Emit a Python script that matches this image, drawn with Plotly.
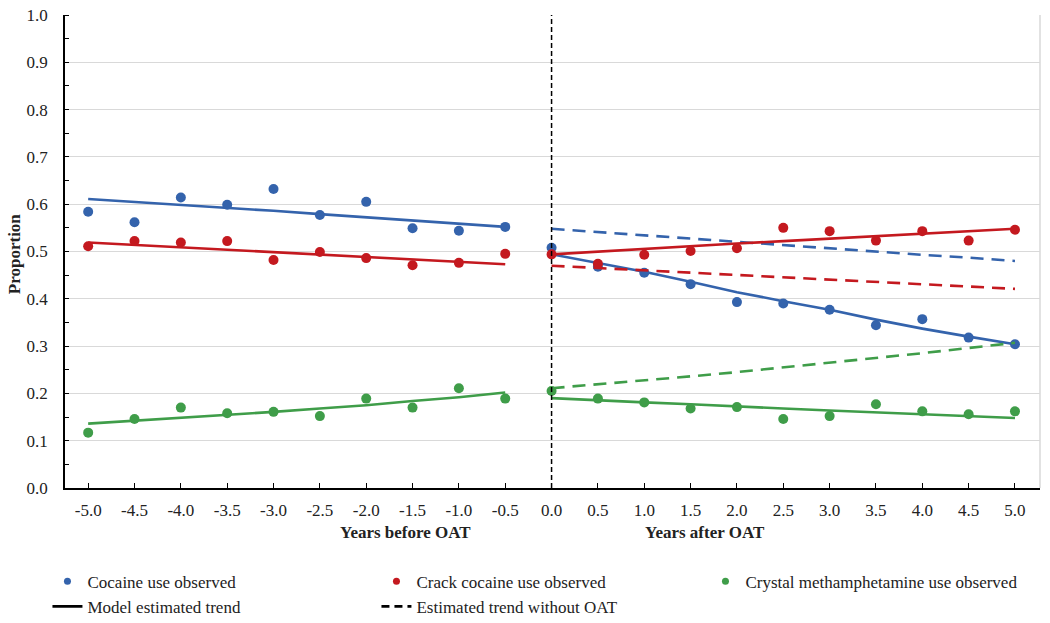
import plotly.graph_objects as go

# ---------------- data ----------------
x_before = [-5.0, -4.5, -4.0, -3.5, -3.0, -2.5, -2.0, -1.5, -1.0, -0.5]
x_after = [0.0, 0.5, 1.0, 1.5, 2.0, 2.5, 3.0, 3.5, 4.0, 4.5, 5.0]

cocaine_obs_before = [0.584, 0.562, 0.614, 0.599, 0.632, 0.577, 0.605, 0.549, 0.544, 0.552]
cocaine_obs_after = [0.508, 0.468, 0.455, 0.431, 0.393, 0.390, 0.377, 0.344, 0.357, 0.318, 0.304]
crack_obs_before = [0.511, 0.522, 0.519, 0.522, 0.482, 0.499, 0.486, 0.471, 0.476, 0.495]
crack_obs_after = [0.494, 0.474, 0.493, 0.501, 0.507, 0.550, 0.543, 0.523, 0.543, 0.523, 0.546]
crystal_obs_before = [0.117, 0.146, 0.170, 0.158, 0.161, 0.152, 0.189, 0.170, 0.211, 0.189]
crystal_obs_after = [0.205, 0.189, 0.181, 0.168, 0.171, 0.146, 0.152, 0.177, 0.162, 0.156, 0.162]

cocaine_trend_before = [0.611, 0.605, 0.599, 0.592, 0.586, 0.579, 0.572, 0.566, 0.559, 0.552]
cocaine_trend_after = [0.494, 0.475, 0.457, 0.436, 0.414, 0.395, 0.377, 0.356, 0.337, 0.320, 0.304]
cocaine_cf_after = [0.548, 0.541, 0.534, 0.527, 0.521, 0.514, 0.507, 0.500, 0.493, 0.487, 0.480]

crack_trend_before = [0.519, 0.514, 0.509, 0.504, 0.499, 0.494, 0.489, 0.484, 0.478, 0.473]
crack_trend_after = [0.494, 0.500, 0.506, 0.511, 0.517, 0.522, 0.527, 0.532, 0.537, 0.542, 0.548]
crack_cf_after = [0.470, 0.465, 0.460, 0.455, 0.450, 0.445, 0.440, 0.436, 0.431, 0.426, 0.421]

crystal_trend_before = [0.136, 0.142, 0.148, 0.155, 0.161, 0.168, 0.175, 0.184, 0.192, 0.202]
crystal_trend_after = [0.190, 0.185, 0.181, 0.177, 0.172, 0.168, 0.164, 0.160, 0.156, 0.152, 0.148]
crystal_cf_after = [0.211, 0.219, 0.227, 0.236, 0.245, 0.255, 0.264, 0.274, 0.285, 0.296, 0.307]

x_ticks = [-5.0, -4.5, -4.0, -3.5, -3.0, -2.5, -2.0, -1.5, -1.0, -0.5,
           0.0, 0.5, 1.0, 1.5, 2.0, 2.5, 3.0, 3.5, 4.0, 4.5, 5.0]
y_ticks = [0.0, 0.1, 0.2, 0.3, 0.4, 0.5, 0.6, 0.7, 0.8, 0.9, 1.0]

legend_labels = ["Cocaine use observed", "Crack cocaine use observed",
                 "Crystal methamphetamine use observed",
                 "Model estimated trend", "Estimated trend without OAT"]

# ---------------- styles ----------------
BLUE = "#3463ac"
RED = "#c4191f"
GREEN = "#3f9d49"
FONT = "Liberation Serif"
LW = 2.6
DASH = "13px,8px"
LEG_W = 284

fig = go.Figure()

series = [
    (BLUE, cocaine_obs_before, cocaine_obs_after, cocaine_trend_before, cocaine_trend_after, cocaine_cf_after),
    (RED, crack_obs_before, crack_obs_after, crack_trend_before, crack_trend_after, crack_cf_after),
    (GREEN, crystal_obs_before, crystal_obs_after, crystal_trend_before, crystal_trend_after, crystal_cf_after),
]

for color, ob, oa, tb, ta, cf in series:
    fig.add_trace(go.Scatter(x=x_after, y=cf, mode="lines", showlegend=False,
                             line=dict(color=color, width=LW, dash=DASH), hoverinfo="skip"))
    fig.add_trace(go.Scatter(x=x_before, y=tb, mode="lines", showlegend=False,
                             line=dict(color=color, width=LW)))
    fig.add_trace(go.Scatter(x=x_after, y=ta, mode="lines", showlegend=False,
                             line=dict(color=color, width=LW)))
    fig.add_trace(go.Scatter(x=x_before + x_after, y=ob + oa, mode="markers", showlegend=False,
                             marker=dict(color=color, size=10)))

# legend-only entries
leg_colors = [BLUE, RED, GREEN]
for i in range(3):
    fig.add_trace(go.Scatter(x=[None], y=[None], mode="markers", name=legend_labels[i],
                             marker=dict(color=leg_colors[i], size=7), legendwidth=LEG_W))
fig.add_trace(go.Scatter(x=[None], y=[None], mode="lines", name=legend_labels[3],
                         line=dict(color="black", width=2.6), legendwidth=LEG_W))
fig.add_trace(go.Scatter(x=[None], y=[None], mode="lines", name=legend_labels[4],
                         line=dict(color="black", width=2.6, dash="8px,5px"), legendwidth=LEG_W))

# vertical dashed line at OAT start
fig.add_shape(type="line", xref="x", yref="y", x0=0, x1=0, y0=0, y1=1,
              line=dict(color="black", width=1.5, dash="5px,3px"), layer="above")
# right border
fig.add_shape(type="line", xref="paper", yref="paper", x0=1, x1=1, y0=0, y1=1,
              line=dict(color="#cfcfcf", width=1.2), layer="below")

fig.add_annotation(text="<b>Years before OAT</b>", x=-1.58, xref="x", y=-0.095, yref="paper",
                   yanchor="middle", showarrow=False, font=dict(family=FONT, size=17, color="#222"))
fig.add_annotation(text="<b>Years after OAT</b>", x=1.65, xref="x", y=-0.095, yref="paper",
                   yanchor="middle", showarrow=False, font=dict(family=FONT, size=17, color="#222"))
fig.add_annotation(text="<b>Proportion</b>", x=-0.051, xref="paper", y=0.495, yref="paper",
                   xanchor="center", yanchor="middle",
                   textangle=-90, showarrow=False, font=dict(family=FONT, size=17, color="#222"))

fig.update_layout(
    width=1050, height=623,
    margin=dict(l=65, r=10, t=15, b=135, autoexpand=False),
    paper_bgcolor="white", plot_bgcolor="white",
    font=dict(family=FONT, size=17, color="#222"),
    showlegend=True,
    legend=dict(orientation="h", x=-0.018, xanchor="left", y=-0.16, yanchor="top",
                font=dict(family=FONT, size=17, color="#222"),
                bgcolor="rgba(0,0,0,0)", tracegroupgap=0),
    xaxis=dict(range=[-5.25, 5.27], tickmode="array", tickvals=x_ticks,
               ticktext=[f"{v:.1f}" for v in x_ticks],
               showgrid=False, zeroline=False, showline=True, linecolor="black", linewidth=1.5,
               ticks="inside", ticklen=5, tickcolor="black", tickwidth=1.2,
               ticklabelstandoff=6, tickfont=dict(family=FONT, size=17, color="#222")),
    yaxis=dict(range=[0, 1.0], tickmode="array", tickvals=y_ticks,
               ticktext=[f"{v:.1f}" for v in y_ticks],
               showgrid=True, gridcolor="#d9d9d9", gridwidth=1.2,
               zeroline=False, showline=True, linecolor="black", linewidth=1.5,
               ticks="", ticklabelstandoff=12, ticklabeloverflow="allow",
               minor=dict(ticks="inside", ticklen=4, tickcolor="black", dtick=0.05, tick0=0,
                          showgrid=False),
               tickfont=dict(family=FONT, size=17, color="#222")),
)

fig.write_html("out.html", config={"displayModeBar": False},
               post_script="document.body.style.margin='0px';")
